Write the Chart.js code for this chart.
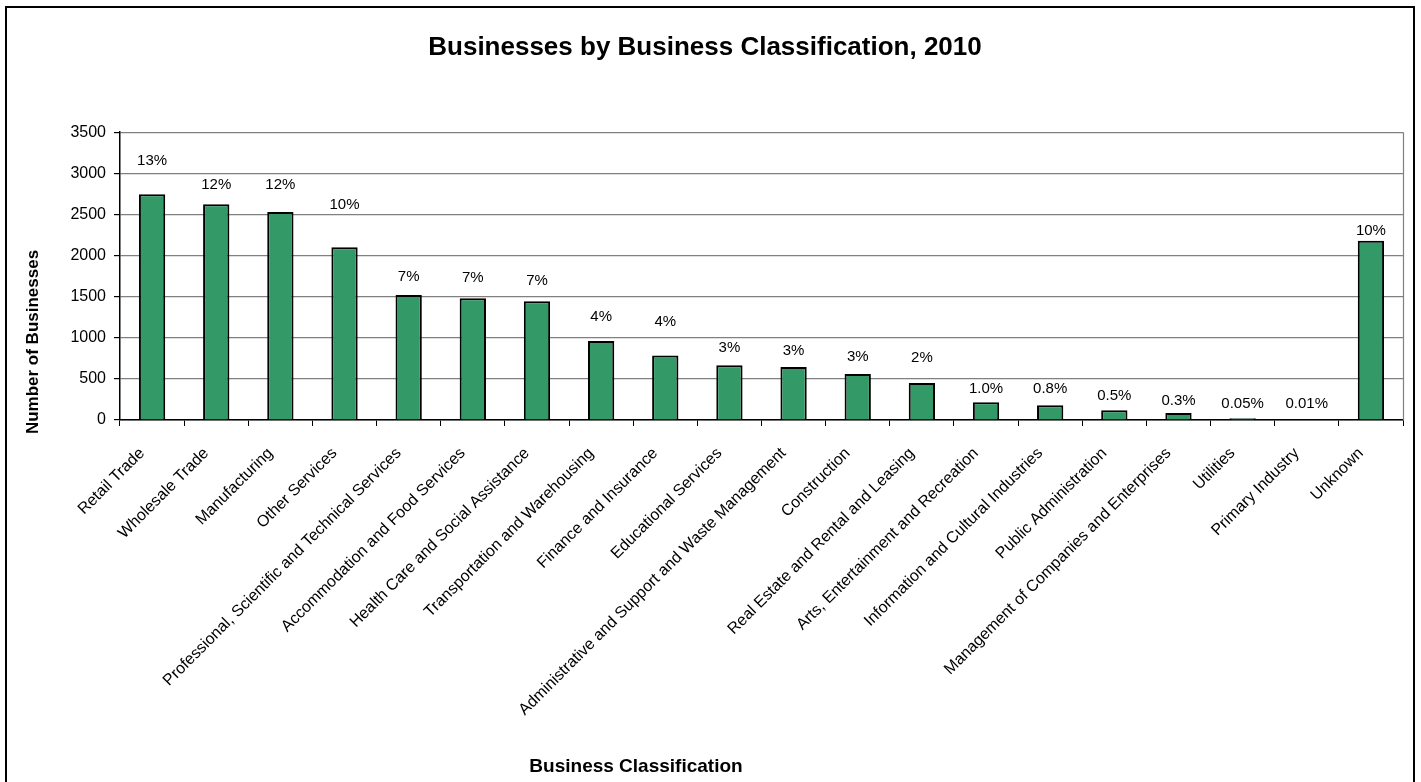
<!DOCTYPE html>
<html lang="en">
<head>
    <meta charset="UTF-8">
    <title>Businesses by Business Classification, 2010</title>
    <script src="https://cdn.jsdelivr.net/npm/chart.js"></script>
    <style>
        body, html {
            margin: 0;
            padding: 0;
            overflow: hidden;
            background: #fff;
            font-family: "Liberation Sans", Arial, sans-serif;
        }
        #frame {
            position: absolute;
            left: 5px;
            top: 6px;
            width: 1406px;
            height: 800px;
            border: 2px solid #000;
        }
    </style>
</head>
<body>
    <div id="frame"><canvas id="bizChart"></canvas></div>

    <script>
        const categories = ["Retail Trade", "Wholesale Trade", "Manufacturing", "Other Services",
            "Professional, Scientific and Technical Services", "Accommodation and Food Services",
            "Health Care and Social Assistance", "Transportation and Warehousing", "Finance and Insurance",
            "Educational Services", "Administrative and Support and Waste Management", "Construction",
            "Real Estate and Rental and Leasing", "Arts, Entertainment and Recreation",
            "Information and Cultural Industries", "Public Administration",
            "Management of Companies and Enterprises", "Utilities", "Primary Industry", "Unknown"];
        const businesses = [2745, 2625, 2530, 2100, 1520, 1480, 1445, 960, 785, 665,
            645, 560, 450, 215, 180, 120, 85, 22, 3, 2180];
        const shareLabels = ["13%", "12%", "12%", "10%", "7%", "7%", "7%", "4%", "4%", "3%",
            "3%", "3%", "2%", "1.0%", "0.8%", "0.5%", "0.3%", "0.05%", "0.01%", "10%"];
        const yTicks = [0, 500, 1000, 1500, 2000, 2500, 3000, 3500];

        const FONT = '"Liberation Sans", Arial, sans-serif';

        // percentage labels above bars, as Excel placed them
        const barLabels = {
            id: 'barLabels',
            afterDatasetsDraw(chart, args, opts) {
                const ctx = chart.ctx;
                const meta = chart.getDatasetMeta(0);
                ctx.save();
                ctx.font = '15px ' + FONT;
                ctx.fillStyle = '#000';
                ctx.textAlign = 'center';
                ctx.textBaseline = 'middle';
                meta.data.forEach((bar, i) => {
                    ctx.fillText(shareLabels[i], bar.x, bar.y - opts.offsets[i]);
                });
                ctx.restore();
            }
        };

        // right edge of the plot + axis titles where Excel put them
        const plotExtras = {
            id: 'plotExtras',
            beforeDatasetsDraw(chart) {
                const { ctx, chartArea: a } = chart;
                ctx.save();
                ctx.strokeStyle = '#808080';
                ctx.lineWidth = 1.2;
                ctx.beginPath();
                ctx.moveTo(a.right + 0.5, a.top);
                ctx.lineTo(a.right + 0.5, a.bottom);
                ctx.stroke();
                ctx.restore();
            },
            afterDraw(chart, args, opts) {
                const ctx = chart.ctx;
                ctx.save();
                ctx.fillStyle = '#000';
                ctx.textAlign = 'center';
                ctx.textBaseline = 'middle';
                ctx.font = 'bold 19px ' + FONT;
                ctx.fillText(opts.xTitle, 629, 759);
                ctx.translate(26, 334);
                ctx.rotate(-Math.PI / 2);
                ctx.font = 'bold 17px ' + FONT;
                ctx.fillText(opts.yTitle, 0, 0);
                ctx.restore();
            }
        };

        const ctxBiz = document.getElementById('bizChart').getContext('2d');
        new Chart(ctxBiz, {
            type: 'bar',
            data: {
                labels: categories,
                datasets: [{
                    label: 'Number of Businesses',
                    data: businesses,
                    backgroundColor: '#339966',
                    borderColor: '#000',
                    borderWidth: 2,
                    barPercentage: 0.41,
                    categoryPercentage: 1
                }]
            },
            options: {
                responsive: true,
                maintainAspectRatio: false,
                animation: false,
                layout: { padding: { left: 0, right: 10, top: 0, bottom: 25 } },
                scales: {
                    x: {
                        afterFit: (s) => { s.height = 363; },
                        grid: { drawOnChartArea: false, color: '#000', tickLength: 6 },
                        border: { color: '#000', width: 1.5 },
                        ticks: {
                            autoSkip: false, maxRotation: 45, minRotation: 45, padding: 18, labelOffset: -10,
                            color: '#000', font: { family: FONT, size: 16 }
                        }
                    },
                    y: {
                        min: 0, max: 3500,
                        afterFit: (s) => { s.width = 113; },
                        afterBuildTicks: (s) => { s.ticks = yTicks.map(v => ({ value: v })); },
                        grid: { color: '#808080', tickColor: '#000', tickLength: 6, lineWidth: 1.2 },
                        border: { color: '#000', width: 1.5 },
                        ticks: {
                            padding: 8, color: '#000', font: { family: FONT, size: 16 },
                            callback: (v) => String(v)
                        }
                    }
                },
                plugins: {
                    legend: { display: false },
                    tooltip: { enabled: false },
                    title: {
                        display: true,
                        text: 'Businesses by Business Classification, 2010',
                        color: '#000',
                        font: { family: FONT, size: 26, weight: 'bold' },
                        padding: { top: 24, bottom: 69 }
                    },
                    barLabels: {
                        offsets: [33, 19, 27, 42, 18, 20, 20, 24, 34, 17, 16, 17, 25, 13, 16, 14, 12, 14, 16, 10]
                    },
                    plotExtras: {
                        xTitle: 'Business Classification',
                        yTitle: 'Number of Businesses'
                    }
                }
            },
            plugins: [barLabels, plotExtras]
        });
    </script>
</body>
</html>
